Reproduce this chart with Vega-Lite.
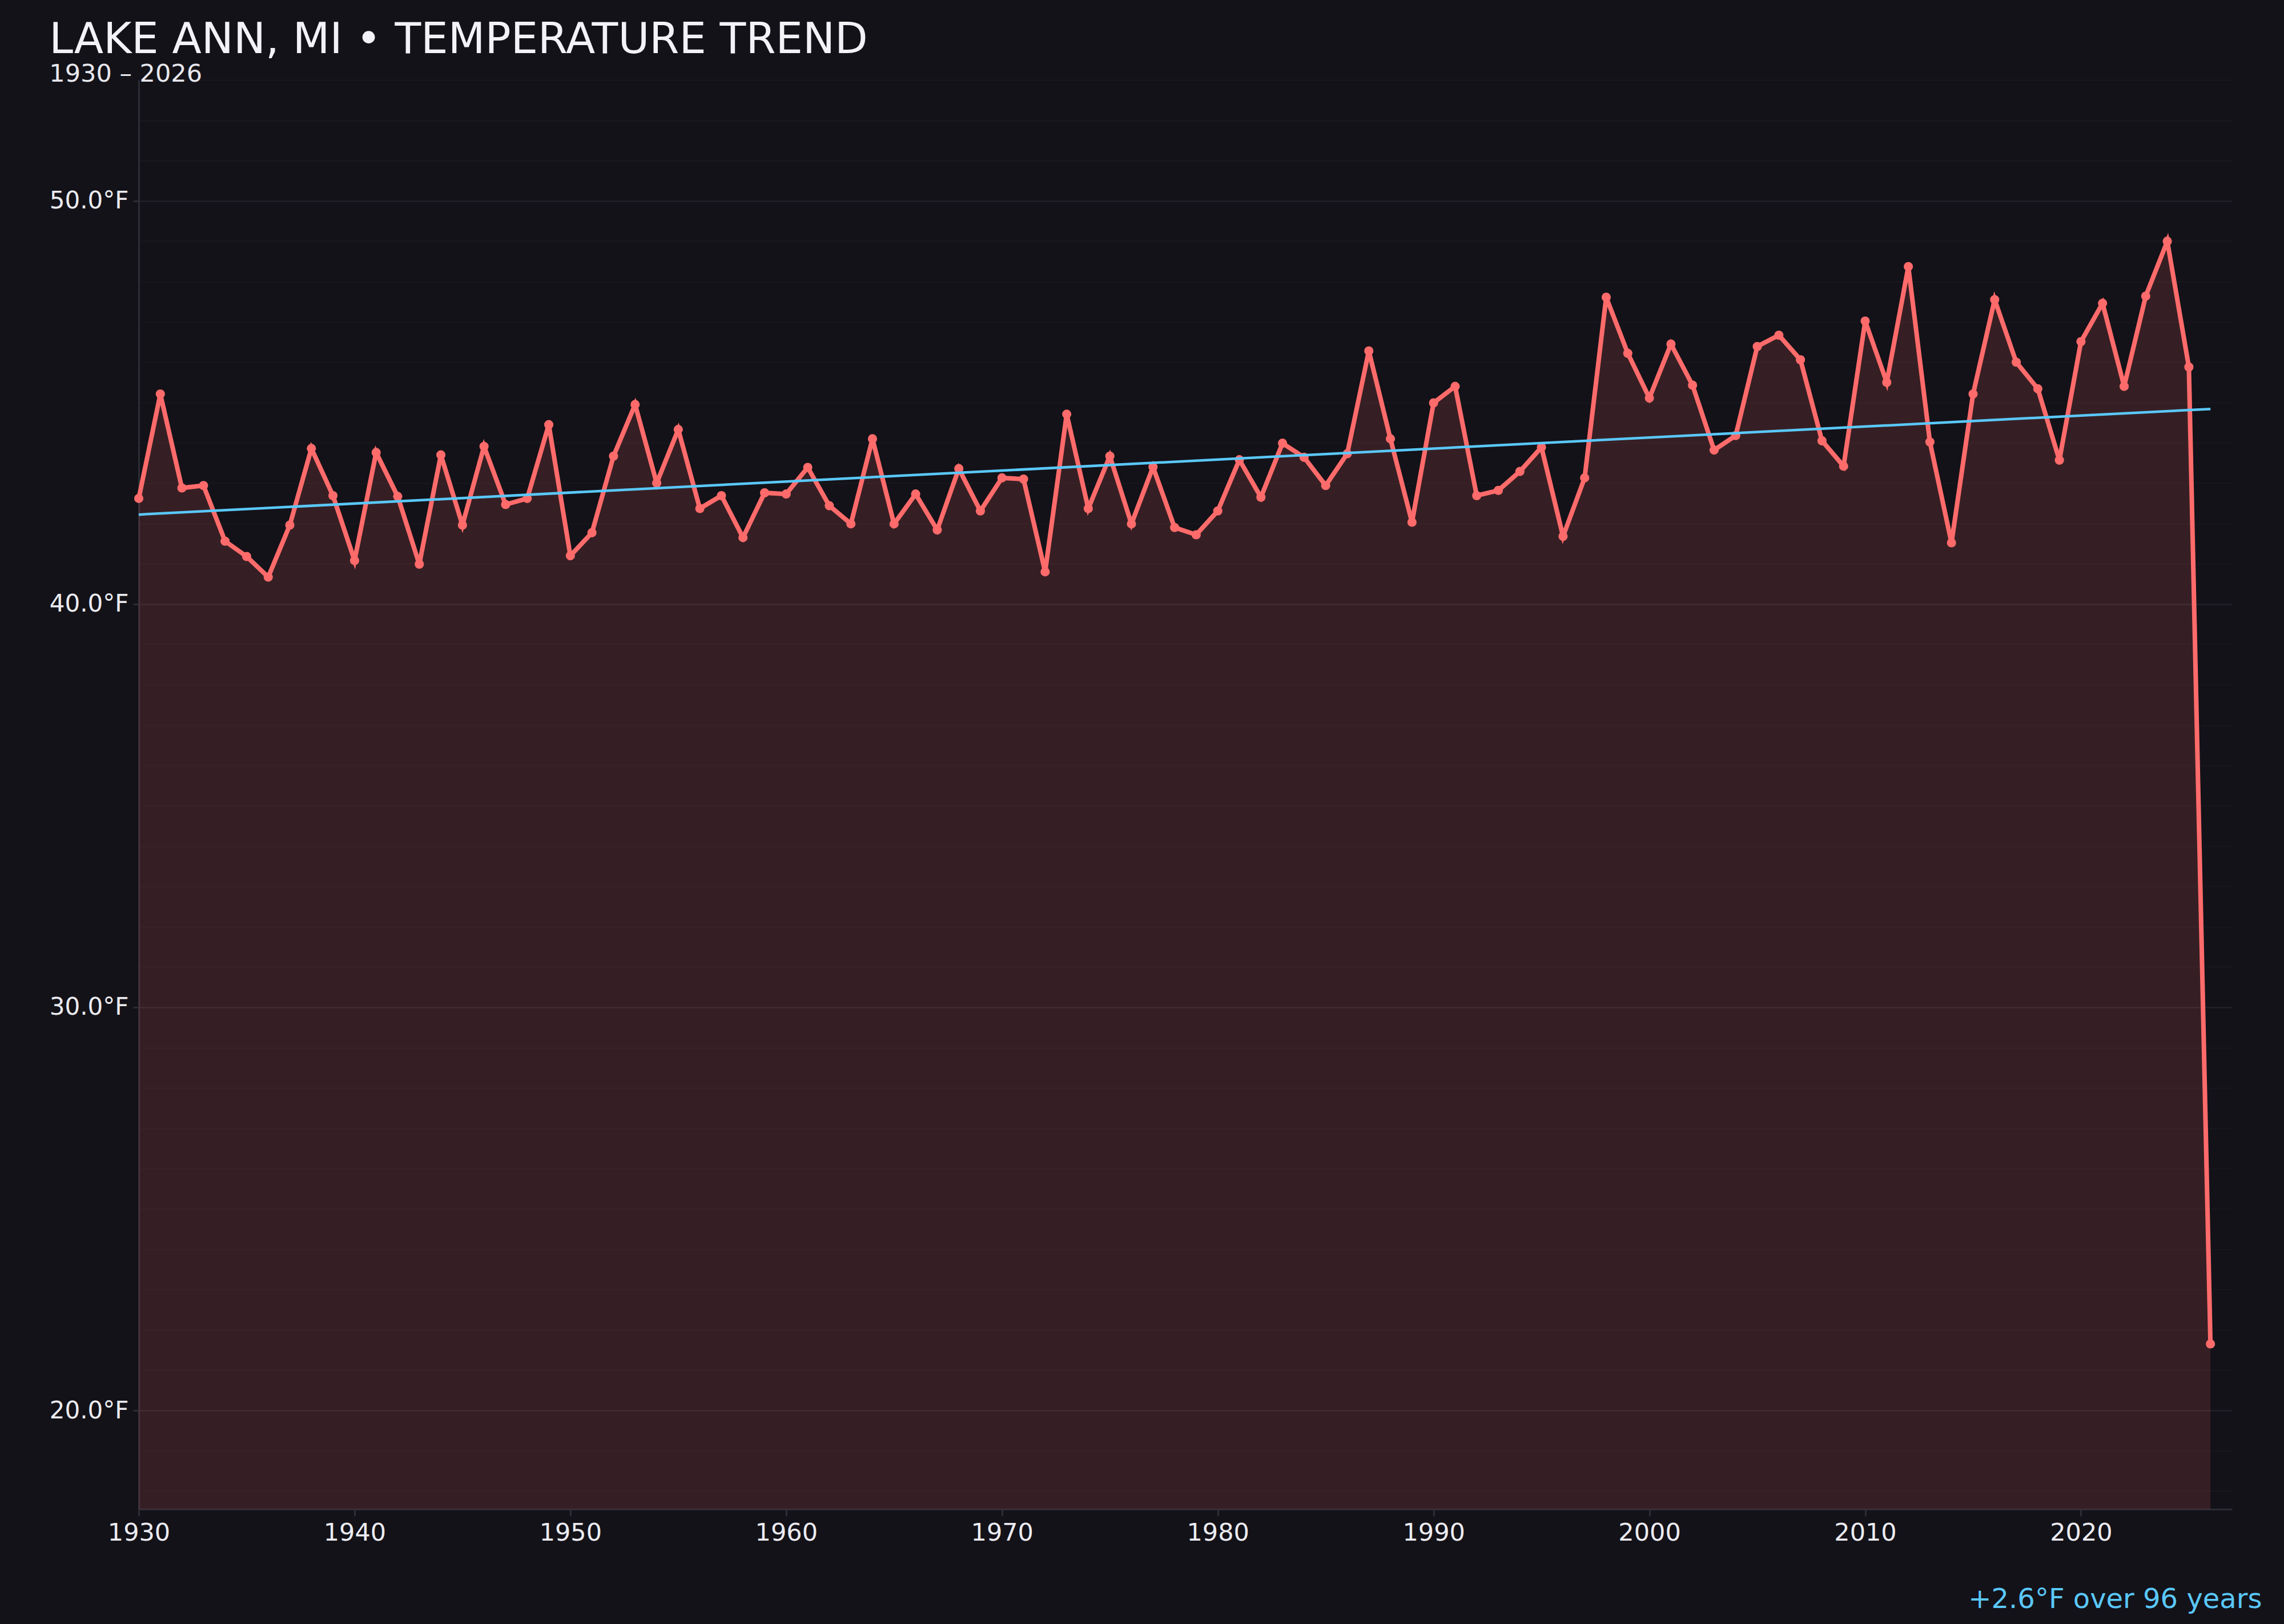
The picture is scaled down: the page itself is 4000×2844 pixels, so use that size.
{
  "$schema": "https://vega.github.io/schema/vega-lite/v6.json",
  "autosize": "none",
  "width": 3666,
  "height": 2503,
  "padding": {"left": 243, "top": 140, "right": 91, "bottom": 201},
  "background": "#131218",
  "title": {
    "text": "LAKE ANN, MI • TEMPERATURE TREND",
    "subtitle": "1930 – 2026",
    "anchor": "start",
    "frame": "bounds",
    "font": "DejaVu Sans",
    "fontSize": 75,
    "fontWeight": "normal",
    "color": "#f2f2f7",
    "subtitleFont": "DejaVu Sans",
    "subtitleFontSize": 43,
    "subtitleColor": "#e8e8ee",
    "subtitlePadding": 0,
    "offset": -14
  },
  "data": {
    "values": [
      {"year": 1930, "temp": 42.62}, {"year": 1931, "temp": 45.21}, {"year": 1932, "temp": 42.88},
      {"year": 1933, "temp": 42.94}, {"year": 1934, "temp": 41.56}, {"year": 1935, "temp": 41.18},
      {"year": 1936, "temp": 40.67}, {"year": 1937, "temp": 41.96}, {"year": 1938, "temp": 43.86},
      {"year": 1939, "temp": 42.69}, {"year": 1940, "temp": 41.08}, {"year": 1941, "temp": 43.76},
      {"year": 1942, "temp": 42.67}, {"year": 1943, "temp": 40.99}, {"year": 1944, "temp": 43.70},
      {"year": 1945, "temp": 41.96}, {"year": 1946, "temp": 43.91}, {"year": 1947, "temp": 42.47},
      {"year": 1948, "temp": 42.62}, {"year": 1949, "temp": 44.45}, {"year": 1950, "temp": 41.20},
      {"year": 1951, "temp": 41.77}, {"year": 1952, "temp": 43.67}, {"year": 1953, "temp": 44.95},
      {"year": 1954, "temp": 43.00}, {"year": 1955, "temp": 44.33}, {"year": 1956, "temp": 42.37},
      {"year": 1957, "temp": 42.69}, {"year": 1958, "temp": 41.65}, {"year": 1959, "temp": 42.76},
      {"year": 1960, "temp": 42.73}, {"year": 1961, "temp": 43.39}, {"year": 1962, "temp": 42.44},
      {"year": 1963, "temp": 41.99}, {"year": 1964, "temp": 44.10}, {"year": 1965, "temp": 41.99},
      {"year": 1966, "temp": 42.73}, {"year": 1967, "temp": 41.84}, {"year": 1968, "temp": 43.36},
      {"year": 1969, "temp": 42.31}, {"year": 1970, "temp": 43.13}, {"year": 1971, "temp": 43.10},
      {"year": 1972, "temp": 40.80}, {"year": 1973, "temp": 44.71}, {"year": 1974, "temp": 42.37},
      {"year": 1975, "temp": 43.67}, {"year": 1976, "temp": 41.99}, {"year": 1977, "temp": 43.40},
      {"year": 1978, "temp": 41.90}, {"year": 1979, "temp": 41.72}, {"year": 1980, "temp": 42.31},
      {"year": 1981, "temp": 43.58}, {"year": 1982, "temp": 42.65}, {"year": 1983, "temp": 43.99},
      {"year": 1984, "temp": 43.64}, {"year": 1985, "temp": 42.94}, {"year": 1986, "temp": 43.73},
      {"year": 1987, "temp": 46.28}, {"year": 1988, "temp": 44.10}, {"year": 1989, "temp": 42.03},
      {"year": 1990, "temp": 44.99}, {"year": 1991, "temp": 45.40}, {"year": 1992, "temp": 42.69},
      {"year": 1993, "temp": 42.82}, {"year": 1994, "temp": 43.29}, {"year": 1995, "temp": 43.89},
      {"year": 1996, "temp": 41.68}, {"year": 1997, "temp": 43.13}, {"year": 1998, "temp": 47.61},
      {"year": 1999, "temp": 46.22}, {"year": 2000, "temp": 45.11}, {"year": 2001, "temp": 46.45},
      {"year": 2002, "temp": 45.43}, {"year": 2003, "temp": 43.82}, {"year": 2004, "temp": 44.18},
      {"year": 2005, "temp": 46.39}, {"year": 2006, "temp": 46.67}, {"year": 2007, "temp": 46.06},
      {"year": 2008, "temp": 44.05}, {"year": 2009, "temp": 43.42}, {"year": 2010, "temp": 47.02},
      {"year": 2011, "temp": 45.50}, {"year": 2012, "temp": 48.37}, {"year": 2013, "temp": 44.02},
      {"year": 2014, "temp": 41.52}, {"year": 2015, "temp": 45.21}, {"year": 2016, "temp": 47.55},
      {"year": 2017, "temp": 46.00}, {"year": 2018, "temp": 45.34}, {"year": 2019, "temp": 43.57},
      {"year": 2020, "temp": 46.51}, {"year": 2021, "temp": 47.46}, {"year": 2022, "temp": 45.40},
      {"year": 2023, "temp": 47.64}, {"year": 2024, "temp": 49.00}, {"year": 2025, "temp": 45.88},
      {"year": 2026, "temp": 21.65}
    ]
  },
  "encoding": {
    "x": {
      "field": "year",
      "type": "quantitative",
      "scale": {"domain": [1930, 2027], "nice": false, "zero": false},
      "axis": {
        "values": [1930, 1940, 1950, 1960, 1970, 1980, 1990, 2000, 2010, 2020],
        "format": "d",
        "grid": false,
        "domainColor": "#2c2c34",
        "domainWidth": 3,
        "tickColor": "#2c2c34",
        "tickWidth": 3,
        "tickSize": 12,
        "labelFont": "DejaVu Sans",
        "labelFontSize": 43,
        "labelColor": "#ececf2",
        "labelPadding": 8,
        "labelFlush": false,
        "title": "+2.6°F over 96 years",
        "titleFont": "DejaVu Sans",
        "titleFontSize": 48,
        "titleFontWeight": "normal",
        "titleColor": "#5ac8fa",
        "titleAnchor": "end",
        "titleAlign": "right",
        "titleBaseline": "alphabetic",
        "titleX": 3718,
        "titleY": 172
      }
    },
    "y": {
      "field": "temp",
      "type": "quantitative",
      "scale": {"domain": [17.55, 53], "nice": false, "zero": false},
      "axis": {
        "values": [18, 19, 20, 21, 22, 23, 24, 25, 26, 27, 28, 29, 30, 31, 32, 33, 34, 35, 36, 37, 38, 39, 40, 41, 42, 43, 44, 45, 46, 47, 48, 49, 50, 51, 52, 53],
        "labelExpr": "datum.value % 10 === 0 ? format(datum.value, '.1f') + '°F' : ''",
        "grid": true,
        "gridColor": {"condition": {"test": "datum.value % 10 === 0", "value": "#25242c"}, "value": "#18171d"},
        "gridWidth": 2,
        "domainColor": "#2c2c34",
        "domainWidth": 3,
        "tickColor": {"condition": {"test": "datum.value % 10 === 0", "value": "#2c2c34"}, "value": "transparent"},
        "tickWidth": 3,
        "tickSize": 10,
        "labelFont": "DejaVu Sans",
        "labelFontSize": 42,
        "labelColor": "#ececf2",
        "labelPadding": 8,
        "title": null
      }
    }
  },
  "layer": [
    {
      "mark": {"type": "area", "color": "#ff6b6b", "opacity": 0.15, "clip": true}
    },
    {
      "mark": {"type": "line", "color": "#ff6b6b", "strokeWidth": 8}
    },
    {
      "mark": {"type": "point", "filled": true, "color": "#ff6b6b", "opacity": 1, "size": 260}
    },
    {
      "data": {
        "values": [
          {"year": 1930, "temp": 42.22},
          {"year": 2026, "temp": 44.84}
        ]
      },
      "mark": {"type": "line", "color": "#5ac8fa", "strokeWidth": 4.5}
    }
  ],
  "config": {
    "view": {"stroke": null}
  }
}
